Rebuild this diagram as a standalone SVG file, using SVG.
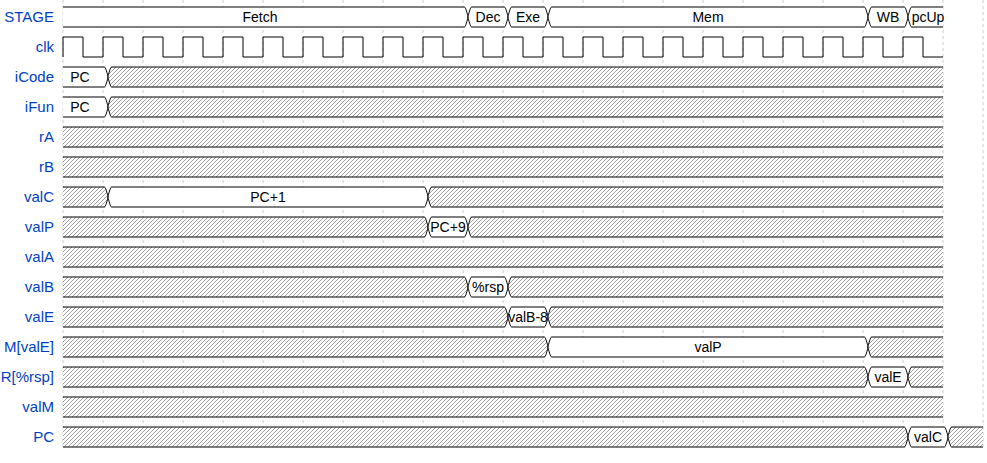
<svg xmlns="http://www.w3.org/2000/svg" width="987" height="463" viewBox="0 0 987 463">
<style>
.nm{font-family:"Liberation Sans",Arial,sans-serif;font-size:15px;fill:#0041c4;text-anchor:end}
.tx{font-family:"Liberation Sans",Arial,sans-serif;font-size:14px;fill:#000;text-anchor:middle}
.d{fill:#fff;stroke:#000;stroke-width:1}
.x{fill:url(#hatch);stroke:#000;stroke-width:1}
.xf{fill:url(#hatch);stroke:none}
.ln{fill:none;stroke:#000;stroke-width:1}
.clk{fill:none;stroke:#000;stroke-width:1}
.grid line{stroke:#ccc;stroke-width:1;stroke-dasharray:3 3}
</style>
<defs>
<pattern id="hatch" patternUnits="userSpaceOnUse" width="4" height="4">
<rect width="4" height="4" fill="#fff"/>
<path d="M-1,1 L1,-1 M0,4 L4,0 M3,5 L5,3" stroke="#888" stroke-width="0.8"/>
</pattern>
</defs>
<rect width="987" height="463" fill="#fff"/>
<g id="grid" class="grid">
<line x1="63" y1="0" x2="63" y2="450"/><line x1="103" y1="0" x2="103" y2="450"/><line x1="143" y1="0" x2="143" y2="450"/><line x1="183" y1="0" x2="183" y2="450"/><line x1="223" y1="0" x2="223" y2="450"/><line x1="263" y1="0" x2="263" y2="450"/><line x1="303" y1="0" x2="303" y2="450"/><line x1="343" y1="0" x2="343" y2="450"/><line x1="383" y1="0" x2="383" y2="450"/><line x1="423" y1="0" x2="423" y2="450"/><line x1="463" y1="0" x2="463" y2="450"/><line x1="503" y1="0" x2="503" y2="450"/><line x1="543" y1="0" x2="543" y2="450"/><line x1="583" y1="0" x2="583" y2="450"/><line x1="623" y1="0" x2="623" y2="450"/><line x1="663" y1="0" x2="663" y2="450"/><line x1="703" y1="0" x2="703" y2="450"/><line x1="743" y1="0" x2="743" y2="450"/><line x1="783" y1="0" x2="783" y2="450"/><line x1="823" y1="0" x2="823" y2="450"/><line x1="863" y1="0" x2="863" y2="450"/><line x1="903" y1="0" x2="903" y2="450"/><line x1="943" y1="0" x2="943" y2="450"/><line x1="983" y1="0" x2="983" y2="450"/>
</g>
<g id="names">
<text class="nm" x="54" y="22">STAGE</text>
<text class="nm" x="54" y="52">clk</text>
<text class="nm" x="54" y="82">iCode</text>
<text class="nm" x="54" y="112">iFun</text>
<text class="nm" x="54" y="142">rA</text>
<text class="nm" x="54" y="172">rB</text>
<text class="nm" x="54" y="202">valC</text>
<text class="nm" x="54" y="232">valP</text>
<text class="nm" x="54" y="262">valA</text>
<text class="nm" x="54" y="292">valB</text>
<text class="nm" x="54" y="322">valE</text>
<text class="nm" x="54" y="352">M[valE]</text>
<text class="nm" x="54" y="382">R[%rsp]</text>
<text class="nm" x="54" y="412">valM</text>
<text class="nm" x="54" y="442">PC</text>
</g>
<g id="lane-STAGE" transform="translate(0,7)">
<path class="d" d="M63,0 H464.5 C465.5,0 467.5,7 468,10 C467.5,13 465.5,20 464.5,20 H63"/>
<path class="d" d="M471.5,0 H504.5 C505.5,0 507.5,7 508,10 C507.5,13 505.5,20 504.5,20 H471.5 C470.5,20 468.5,13 468,10 C468.5,7 470.5,0 471.5,0 Z"/>
<path class="d" d="M511.5,0 H544.5 C545.5,0 547.5,7 548,10 C547.5,13 545.5,20 544.5,20 H511.5 C510.5,20 508.5,13 508,10 C508.5,7 510.5,0 511.5,0 Z"/>
<path class="d" d="M551.5,0 H864.5 C865.5,0 867.5,7 868,10 C867.5,13 865.5,20 864.5,20 H551.5 C550.5,20 548.5,13 548,10 C548.5,7 550.5,0 551.5,0 Z"/>
<path class="d" d="M871.5,0 H904.5 C905.5,0 907.5,7 908,10 C907.5,13 905.5,20 904.5,20 H871.5 C870.5,20 868.5,13 868,10 C868.5,7 870.5,0 871.5,0 Z"/>
<path class="d" d="M943,20 H911.5 C910.5,20 908.5,13 908,10 C908.5,7 910.5,0 911.5,0 H943"/>
<text class="tx" x="260" y="15">Fetch</text>
<text class="tx" x="488" y="15">Dec</text>
<text class="tx" x="528" y="15">Exe</text>
<text class="tx" x="708" y="15">Mem</text>
<text class="tx" x="888" y="15">WB</text>
<text class="tx" x="928" y="15">pcUp</text>
</g>
<g id="lane-clk" transform="translate(0,37)">
<path class="clk" d="M63,20 V0 H83 V20 H103 V0 H123 V20 H143 V0 H163 V20 H183 V0 H203 V20 H223 V0 H243 V20 H263 V0 H283 V20 H303 V0 H323 V20 H343 V0 H363 V20 H383 V0 H403 V20 H423 V0 H443 V20 H463 V0 H483 V20 H503 V0 H523 V20 H543 V0 H563 V20 H583 V0 H603 V20 H623 V0 H643 V20 H663 V0 H683 V20 H703 V0 H723 V20 H743 V0 H763 V20 H783 V0 H803 V20 H823 V0 H843 V20 H863 V0 H883 V20 H903 V0 H923 V20 H943"/>
</g>
<g id="lane-iCode" transform="translate(0,67)">
<path class="d" d="M63,0 H104.5 C105.5,0 107.5,7 108,10 C107.5,13 105.5,20 104.5,20 H63"/>
<path class="x" d="M943,20 H111.5 C110.5,20 108.5,13 108,10 C108.5,7 110.5,0 111.5,0 H943"/>
<text class="tx" x="80" y="15">PC</text>
</g>
<g id="lane-iFun" transform="translate(0,97)">
<path class="d" d="M63,0 H104.5 C105.5,0 107.5,7 108,10 C107.5,13 105.5,20 104.5,20 H63"/>
<path class="x" d="M943,20 H111.5 C110.5,20 108.5,13 108,10 C108.5,7 110.5,0 111.5,0 H943"/>
<text class="tx" x="80" y="15">PC</text>
</g>
<g id="lane-rA" transform="translate(0,127)">
<rect class="xf" x="63" y="0" width="880" height="20"/>
<path class="ln" d="M63,0 H943 M63,20 H943"/>
</g>
<g id="lane-rB" transform="translate(0,157)">
<rect class="xf" x="63" y="0" width="880" height="20"/>
<path class="ln" d="M63,0 H943 M63,20 H943"/>
</g>
<g id="lane-valC" transform="translate(0,187)">
<path class="x" d="M63,0 H104.5 C105.5,0 107.5,7 108,10 C107.5,13 105.5,20 104.5,20 H63"/>
<path class="d" d="M111.5,0 H424.5 C425.5,0 427.5,7 428,10 C427.5,13 425.5,20 424.5,20 H111.5 C110.5,20 108.5,13 108,10 C108.5,7 110.5,0 111.5,0 Z"/>
<path class="x" d="M943,20 H431.5 C430.5,20 428.5,13 428,10 C428.5,7 430.5,0 431.5,0 H943"/>
<text class="tx" x="268" y="15">PC+1</text>
</g>
<g id="lane-valP" transform="translate(0,217)">
<path class="x" d="M63,0 H424.5 C425.5,0 427.5,7 428,10 C427.5,13 425.5,20 424.5,20 H63"/>
<path class="d" d="M431.5,0 H464.5 C465.5,0 467.5,7 468,10 C467.5,13 465.5,20 464.5,20 H431.5 C430.5,20 428.5,13 428,10 C428.5,7 430.5,0 431.5,0 Z"/>
<path class="x" d="M943,20 H471.5 C470.5,20 468.5,13 468,10 C468.5,7 470.5,0 471.5,0 H943"/>
<text class="tx" x="448" y="15">PC+9</text>
</g>
<g id="lane-valA" transform="translate(0,247)">
<rect class="xf" x="63" y="0" width="880" height="20"/>
<path class="ln" d="M63,0 H943 M63,20 H943"/>
</g>
<g id="lane-valB" transform="translate(0,277)">
<path class="x" d="M63,0 H464.5 C465.5,0 467.5,7 468,10 C467.5,13 465.5,20 464.5,20 H63"/>
<path class="d" d="M471.5,0 H504.5 C505.5,0 507.5,7 508,10 C507.5,13 505.5,20 504.5,20 H471.5 C470.5,20 468.5,13 468,10 C468.5,7 470.5,0 471.5,0 Z"/>
<path class="x" d="M943,20 H511.5 C510.5,20 508.5,13 508,10 C508.5,7 510.5,0 511.5,0 H943"/>
<text class="tx" x="488" y="15">%rsp</text>
</g>
<g id="lane-valE" transform="translate(0,307)">
<path class="x" d="M63,0 H504.5 C505.5,0 507.5,7 508,10 C507.5,13 505.5,20 504.5,20 H63"/>
<path class="d" d="M511.5,0 H544.5 C545.5,0 547.5,7 548,10 C547.5,13 545.5,20 544.5,20 H511.5 C510.5,20 508.5,13 508,10 C508.5,7 510.5,0 511.5,0 Z"/>
<path class="x" d="M943,20 H551.5 C550.5,20 548.5,13 548,10 C548.5,7 550.5,0 551.5,0 H943"/>
<text class="tx" x="528" y="15">valB-8</text>
</g>
<g id="lane-MvalE" transform="translate(0,337)">
<path class="x" d="M63,0 H544.5 C545.5,0 547.5,7 548,10 C547.5,13 545.5,20 544.5,20 H63"/>
<path class="d" d="M551.5,0 H864.5 C865.5,0 867.5,7 868,10 C867.5,13 865.5,20 864.5,20 H551.5 C550.5,20 548.5,13 548,10 C548.5,7 550.5,0 551.5,0 Z"/>
<path class="x" d="M943,20 H871.5 C870.5,20 868.5,13 868,10 C868.5,7 870.5,0 871.5,0 H943"/>
<text class="tx" x="708" y="15">valP</text>
</g>
<g id="lane-Rrsp" transform="translate(0,367)">
<path class="x" d="M63,0 H864.5 C865.5,0 867.5,7 868,10 C867.5,13 865.5,20 864.5,20 H63"/>
<path class="d" d="M871.5,0 H904.5 C905.5,0 907.5,7 908,10 C907.5,13 905.5,20 904.5,20 H871.5 C870.5,20 868.5,13 868,10 C868.5,7 870.5,0 871.5,0 Z"/>
<path class="x" d="M943,20 H911.5 C910.5,20 908.5,13 908,10 C908.5,7 910.5,0 911.5,0 H943"/>
<text class="tx" x="888" y="15">valE</text>
</g>
<g id="lane-valM" transform="translate(0,397)">
<rect class="xf" x="63" y="0" width="880" height="20"/>
<path class="ln" d="M63,0 H943 M63,20 H943"/>
</g>
<g id="lane-PC" transform="translate(0,427)">
<path class="x" d="M63,0 H904.5 C905.5,0 907.5,7 908,10 C907.5,13 905.5,20 904.5,20 H63"/>
<path class="d" d="M911.5,0 H944.5 C945.5,0 947.5,7 948,10 C947.5,13 945.5,20 944.5,20 H911.5 C910.5,20 908.5,13 908,10 C908.5,7 910.5,0 911.5,0 Z"/>
<path class="x" d="M983,20 H951.5 C950.5,20 948.5,13 948,10 C948.5,7 950.5,0 951.5,0 H983"/>
<text class="tx" x="928" y="15">valC</text>
</g>
</svg>
